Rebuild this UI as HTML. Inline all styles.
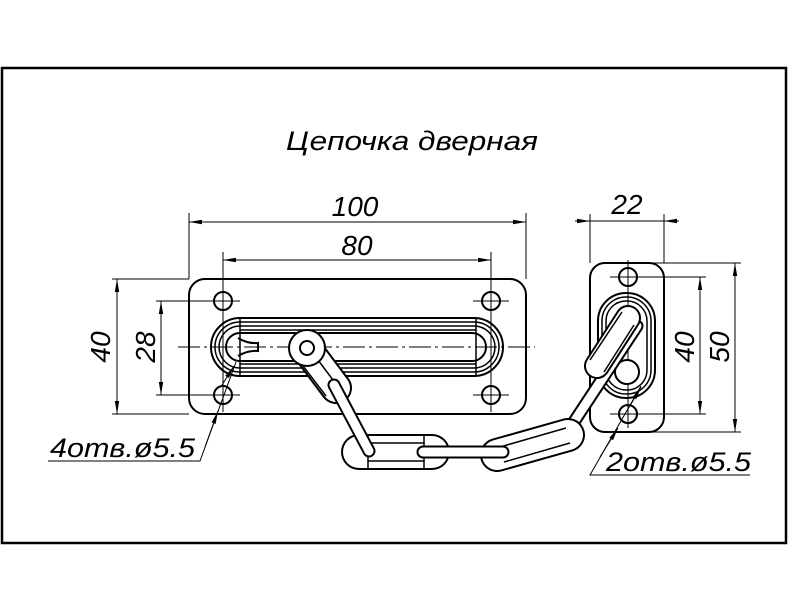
<!DOCTYPE html>
<html><head><meta charset="utf-8"><style>
html,body{margin:0;padding:0;background:#fff;}
svg{display:block;}
text{font-family:"Liberation Sans",sans-serif;font-style:italic;fill:#000;}
</style></head><body>
<svg width="789" height="610" viewBox="0 0 789 610" xmlns="http://www.w3.org/2000/svg">
<defs>
<marker id="a" markerWidth="14" markerHeight="6" refX="13" refY="3" orient="auto" markerUnits="userSpaceOnUse">
<path d="M0,0.8 L13,3 L0,5.2 Z" fill="#000"/></marker>
<marker id="b" markerWidth="14" markerHeight="6" refX="1" refY="3" orient="auto" markerUnits="userSpaceOnUse">
<path d="M14,0.8 L1,3 L14,5.2 Z" fill="#000"/></marker>
</defs>
<rect x="2" y="68" width="784" height="475" fill="none" stroke="#000" stroke-width="2.5"/>
<text x="412" y="150" font-size="27" text-anchor="middle" textLength="252" lengthAdjust="spacingAndGlyphs">Цепочка  дверная</text>

<g stroke="#000" fill="none" stroke-width="1">
<!-- left plate dims -->
<line x1="189" y1="213" x2="189" y2="279"/><line x1="526" y1="213" x2="526" y2="279"/>
<line x1="189" y1="222" x2="526" y2="222" marker-start="url(#b)" marker-end="url(#a)"/>
<line x1="223" y1="252" x2="223" y2="412"/><line x1="491" y1="252" x2="491" y2="412"/>
<line x1="223" y1="260" x2="491" y2="260" marker-start="url(#b)" marker-end="url(#a)"/>
<line x1="112" y1="279" x2="189" y2="279"/><line x1="112" y1="414" x2="189" y2="414"/>
<line x1="117" y1="279" x2="117" y2="414" marker-start="url(#b)" marker-end="url(#a)"/>
<line x1="156" y1="301" x2="240" y2="301"/><line x1="156" y1="395" x2="240" y2="395"/>
<line x1="161" y1="301" x2="161" y2="395" marker-start="url(#b)" marker-end="url(#a)"/>
<line x1="473" y1="301" x2="509" y2="301"/><line x1="473" y1="395" x2="509" y2="395"/>
<line x1="178" y1="347" x2="535" y2="347" stroke-dasharray="22,4,3,4"/>
<!-- leaders -->
<polyline points="48,461 200,461 236,362"/>
<line x1="205" y1="447" x2="218" y2="411" marker-end="url(#a)"/>
<line x1="222" y1="385" x2="234" y2="366" marker-end="url(#a)"/>
<polyline points="750,475 590,475 641,386"/>
<line x1="600" y1="457" x2="618" y2="428" marker-end="url(#a)"/>
<line x1="628" y1="409" x2="641" y2="387" marker-end="url(#a)"/>
<!-- right plate dims -->
<line x1="590" y1="214" x2="590" y2="263"/><line x1="664" y1="214" x2="664" y2="263"/>
<line x1="575" y1="221" x2="590" y2="221" marker-end="url(#a)"/>
<line x1="679" y1="221" x2="664" y2="221" marker-end="url(#a)"/>
<line x1="590" y1="221" x2="664" y2="221"/>
<line x1="610" y1="277" x2="706" y2="277"/><line x1="610" y1="414" x2="706" y2="414"/>
<line x1="700" y1="277" x2="700" y2="414" marker-start="url(#b)" marker-end="url(#a)"/>
<line x1="650" y1="263" x2="741" y2="263"/><line x1="650" y1="432" x2="741" y2="432"/>
<line x1="735" y1="263" x2="735" y2="432" marker-start="url(#b)" marker-end="url(#a)"/>
<line x1="628" y1="260" x2="628" y2="428"/>
</g>

<g stroke="#000" fill="none" stroke-width="2">
<rect x="189" y="279" width="337" height="135" rx="16"/>
<circle cx="223" cy="301" r="9"/><circle cx="491" cy="301" r="9"/>
<circle cx="223" cy="395" r="9"/><circle cx="491" cy="395" r="9"/>
<rect x="211" y="318" width="292" height="58" rx="29"/>
<rect x="215" y="322" width="284" height="50" rx="25" stroke-width="1.5"/>
<rect x="219" y="326" width="276" height="42" rx="21" stroke-width="1.5"/>
<rect x="226" y="333" width="260" height="28" rx="14"/>
<g stroke-width="1.5">
<line x1="240" y1="330" x2="476" y2="330"/><line x1="240" y1="364" x2="476" y2="364"/>
<line x1="240" y1="318" x2="240" y2="376"/><line x1="476" y1="318" x2="476" y2="376"/>
</g>
<path d="M238,338 Q248,344 258,343 L258,351 Q248,350 238,356"/>

<!-- right plate -->
<rect x="590" y="263" width="74" height="169" rx="15"/>
<circle cx="628" cy="277" r="9"/><circle cx="628" cy="414" r="9"/>
<rect x="598" y="293" width="57" height="105" rx="28"/>
<rect x="602" y="297" width="49" height="97" rx="24" stroke-width="1.5"/>
<rect x="606" y="301" width="41" height="89" rx="20" stroke-width="1.5"/>
<circle cx="627" cy="322" r="11" fill="#fff"/>
<circle cx="627" cy="372" r="12" fill="#fff"/>

<!-- chain -->
<g fill="#fff">
<line x1="562" y1="440" x2="637" y2="326" stroke-width="13" stroke-linecap="round"/>
<line x1="562" y1="440" x2="637" y2="326" stroke="#fff" stroke-width="9" stroke-linecap="round"/>
<line x1="597" y1="366" x2="628" y2="318" stroke-width="26" stroke-linecap="round"/>
<line x1="597" y1="366" x2="628" y2="318" stroke="#fff" stroke-width="22" stroke-linecap="round"/>
<line x1="590" y1="360" x2="622" y2="312" stroke-width="1.5"/>
<line x1="604" y1="372" x2="634" y2="325" stroke-width="1.5"/>

<line x1="497" y1="455" x2="568" y2="435" stroke-width="34" stroke-linecap="round"/>
<line x1="497" y1="455" x2="568" y2="435" stroke="#fff" stroke-width="30" stroke-linecap="round"/>
<line x1="500" y1="447" x2="566" y2="428" stroke-width="1.5"/>
<line x1="504" y1="462" x2="570" y2="443" stroke-width="1.5"/>

<line x1="306" y1="348" x2="336" y2="388" stroke-width="32" stroke-linecap="round"/>
<line x1="306" y1="348" x2="336" y2="388" stroke="#fff" stroke-width="28" stroke-linecap="round"/>
<line x1="300" y1="362" x2="326" y2="396" stroke-width="1.5"/>
<line x1="315" y1="356" x2="342" y2="392" stroke-width="1.5"/>
<circle cx="307" cy="348" r="18"/>
<circle cx="307" cy="348" r="7"/>

<line x1="359" y1="452" x2="432" y2="452" stroke-width="36" stroke-linecap="round"/>
<line x1="359" y1="452" x2="432" y2="452" stroke="#fff" stroke-width="32" stroke-linecap="round"/>
<line x1="368" y1="443" x2="424" y2="443" stroke-width="1.5"/>
<line x1="368" y1="461" x2="424" y2="461" stroke-width="1.5"/>
<line x1="368" y1="436" x2="368" y2="468" stroke-width="1.5"/>
<line x1="424" y1="436" x2="424" y2="468" stroke-width="1.5"/>

<line x1="423" y1="452" x2="503" y2="452" stroke-width="13" stroke-linecap="round"/>
<line x1="423" y1="452" x2="503" y2="452" stroke="#fff" stroke-width="9" stroke-linecap="round"/>
<line x1="334" y1="385" x2="369" y2="451" stroke-width="13" stroke-linecap="round"/>
<line x1="334" y1="385" x2="369" y2="451" stroke="#fff" stroke-width="9" stroke-linecap="round"/>
</g>
</g>

<text x="355" y="216" font-size="28" text-anchor="middle">100</text>
<text x="357" y="255" font-size="28" text-anchor="middle">80</text>
<text x="627" y="214" font-size="28" text-anchor="middle">22</text>
<text transform="translate(110,347) rotate(-90)" font-size="28" text-anchor="middle">40</text>
<text transform="translate(155,347) rotate(-90)" font-size="28" text-anchor="middle">28</text>
<text transform="translate(694,347) rotate(-90)" font-size="28" text-anchor="middle">40</text>
<text transform="translate(729,347) rotate(-90)" font-size="28" text-anchor="middle">50</text>
<text x="50" y="457" font-size="27" textLength="145" lengthAdjust="spacingAndGlyphs">4отв.ø5.5</text>
<text x="606" y="471" font-size="27" textLength="145" lengthAdjust="spacingAndGlyphs">2отв.ø5.5</text>
</svg>
</body></html>
